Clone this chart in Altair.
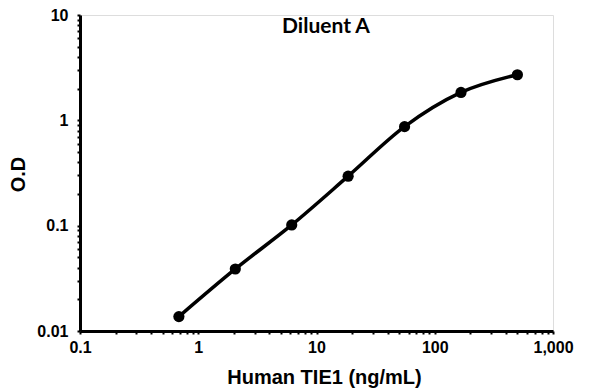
import altair as alt
import pandas as pd

conc = [0.686, 2.058, 6.173, 18.52, 55.56, 166.7, 500.0]
od = [0.0137, 0.0388, 0.1016, 0.295, 0.871, 1.84, 2.71]
chart_title = ["Diluent A"]

x_ticks = [m * 10.0 ** e for e in range(-1, 3) for m in range(1, 10)] + [1000.0]
y_ticks = [m * 10.0 ** e for e in range(-2, 1) for m in range(1, 10)] + [10.0]

df = pd.DataFrame({"conc": conc, "od": od})
tdf = pd.DataFrame({"t": chart_title})

label_expr = ("abs(log(datum.value)/LN10 - round(log(datum.value)/LN10)) < 1e-6 "
              "? datum.label : ''")
FONT = "Liberation Sans"

x = alt.X("conc:Q",
          scale=alt.Scale(type="log", domain=[0.1, 1000], nice=False),
          axis=alt.Axis(values=x_ticks, format=",", labelExpr=label_expr,
                        title="Human TIE1 (ng/mL)", grid=False,
                        domainColor="black", domainWidth=3,
                        tickColor="black", tickWidth=2, tickSize=3,
                        labelFont=FONT, labelFontSize=16, labelFontWeight="bold",
                        labelColor="black", labelPadding=5, labelFlush=False,
                        labelOverlap=False,
                        titleFont=FONT, titleFontSize=20, titleFontWeight="bold",
                        titleColor="black", titleX=244, titleY=46,
                        titleBaseline="middle"))
y = alt.Y("od:Q",
          scale=alt.Scale(type="log", domain=[0.01, 10], nice=False),
          axis=alt.Axis(values=y_ticks, format=",", labelExpr=label_expr,
                        title="O.D", grid=False,
                        domainColor="black", domainWidth=3,
                        tickColor="black", tickWidth=2, tickSize=3,
                        labelFont=FONT, labelFontSize=16, labelFontWeight="bold",
                        labelColor="black", labelPadding=9, labelFlush=False,
                        labelOverlap=False,
                        titleFont=FONT, titleFontSize=20, titleFontWeight="bold",
                        titleColor="black", titleX=-62, titleY=159,
                        titleBaseline="middle", titleAngle=270))

line = alt.Chart(df).mark_line(color="black", strokeWidth=3.5,
                               interpolate="monotone").encode(x=x, y=y)
pts = alt.Chart(df).mark_circle(color="black", opacity=1, size=125).encode(x=x, y=y)
title = alt.Chart(tdf).mark_text(font="Lato", fontSize=21, fontWeight="bold",
                                 color="black", align="center",
                                 baseline="middle").encode(
    text="t:N", x=alt.value(246), y=alt.value(12))

chart = (line + pts + title).properties(
    width=473, height=316,
    autosize=alt.AutoSizeParams(type="none"),
    padding={"left": 72, "top": 7, "right": 35, "bottom": 61},
).configure_view(stroke=None).configure(background="white")

chart.save("out.html", embed_options={"renderer": "svg", "actions": False})
